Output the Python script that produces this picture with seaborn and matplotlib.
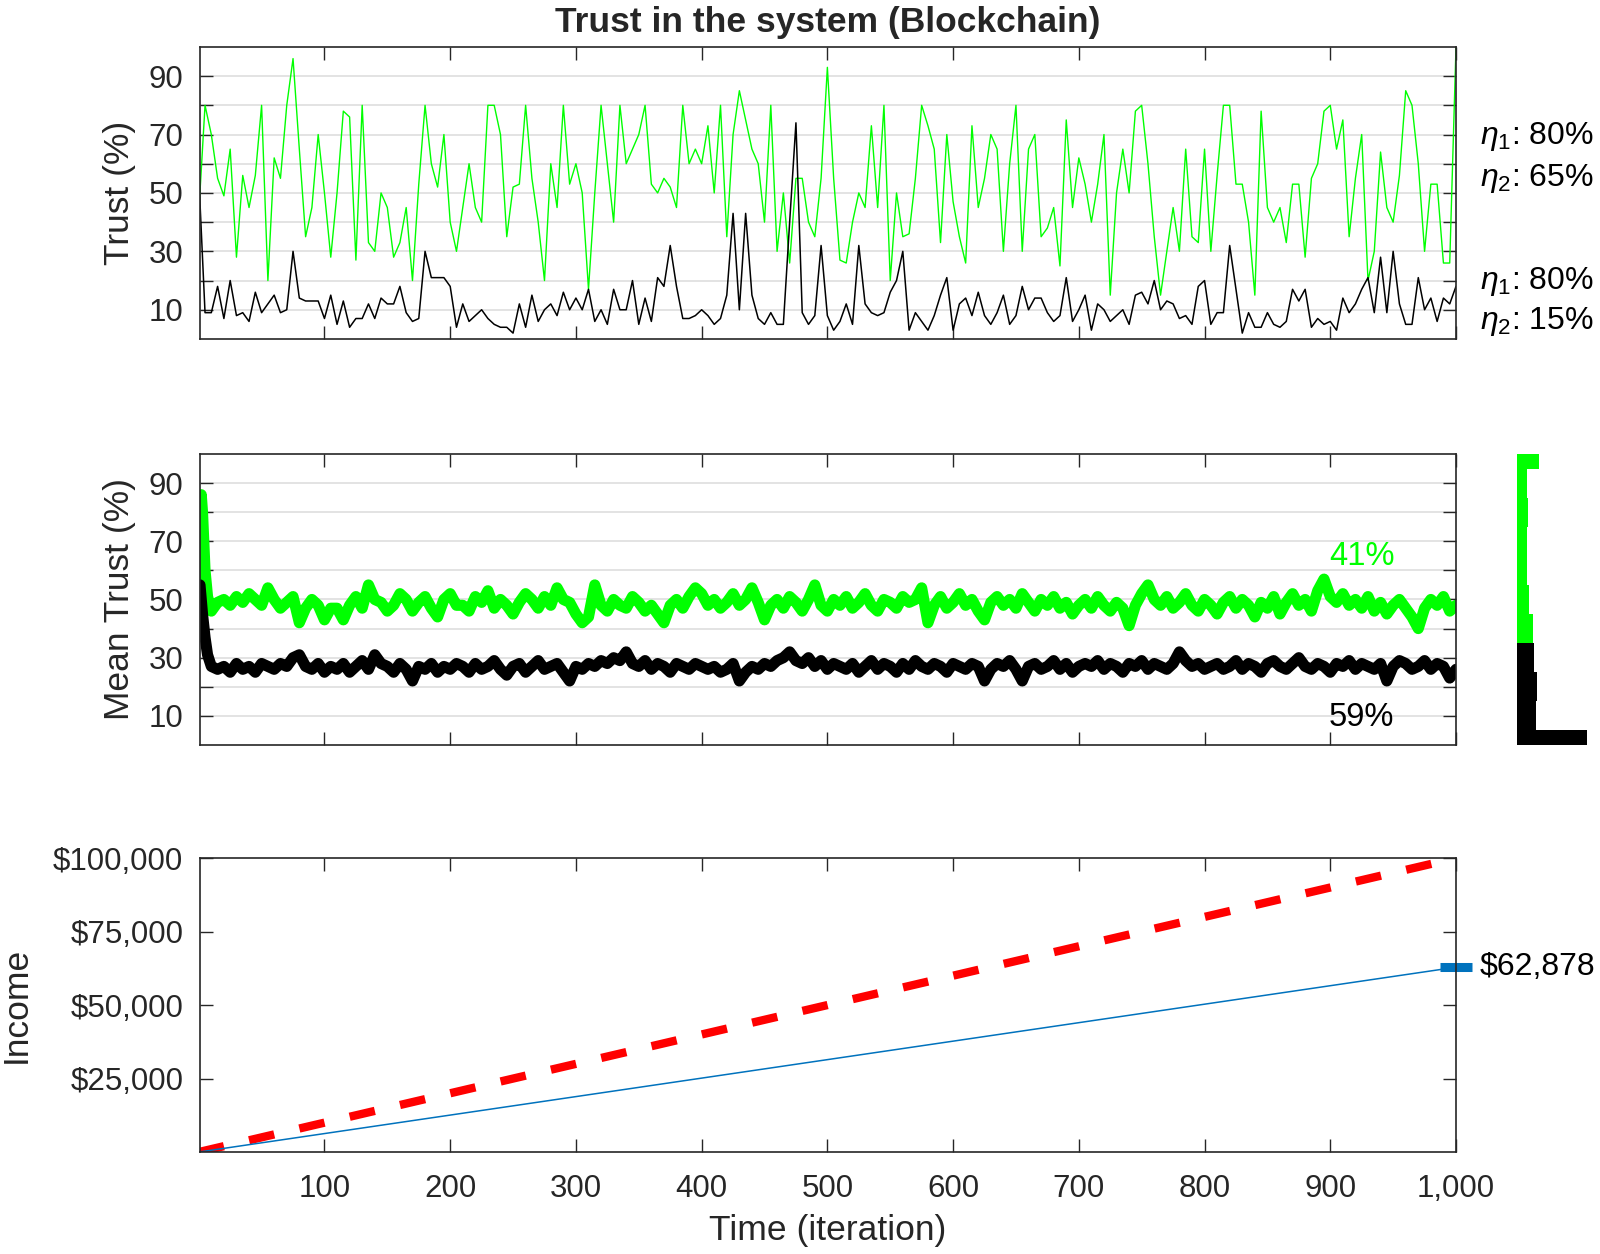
import numpy as np
import matplotlib
matplotlib.use("Agg")
import matplotlib.pyplot as plt
from matplotlib.ticker import FuncFormatter
import seaborn as sns

# ---------------- data ----------------
# top panel: trust of two agents, sampled every 5 iterations
time_top = np.arange(0, 1001, 5)
trust_green = [
    43, 80, 70, 55, 49, 65, 28, 56, 45, 56, 80, 20, 62, 55, 80, 96, 65, 35, 45, 70,
    50, 28, 50, 78, 76, 27, 80, 33, 30, 50, 45, 28, 33, 45, 20, 53, 80, 60, 52, 70,
    40, 30, 45, 60, 45, 40, 80, 80, 70, 35, 52, 53, 80, 55, 40, 20, 60, 45, 80, 53,
    60, 50, 17, 50, 80, 60, 40, 80, 60, 65, 70, 80, 53, 50, 55, 52, 45, 80, 60, 65,
    60, 73, 50, 80, 35, 70, 85, 75, 65, 60, 40, 80, 30, 50, 26, 55, 55, 40, 35, 55,
    93, 55, 27, 26, 40, 50, 45, 73, 45, 80, 20, 50, 35, 36, 55, 80, 73, 65, 33, 70,
    47, 35, 26, 73, 45, 55, 70, 65, 30, 60, 80, 30, 65, 70, 35, 38, 45, 25, 75, 45,
    62, 53, 40, 53, 70, 15, 50, 65, 50, 78, 80, 60, 35, 15, 30, 45, 30, 65, 35, 33,
    65, 30, 56, 80, 80, 53, 53, 40, 15, 78, 45, 40, 45, 33, 53, 53, 28, 55, 60, 78,
    80, 65, 75, 35, 55, 70, 20, 30, 64, 45, 40, 56, 85, 80, 60, 30, 53, 53, 26, 26,
    100,
]
trust_black = [
    56, 9, 9, 18, 7, 20, 8, 9, 6, 16, 9, 12, 15, 9, 10, 30, 14, 13, 13, 13,
    7, 15, 5, 13, 4, 7, 7, 12, 7, 14, 12, 12, 18, 9, 6, 7, 30, 21, 21, 21,
    18, 4, 12, 6, 8, 10, 7, 5, 4, 4, 2, 12, 4, 15, 6, 10, 12, 8, 16, 10,
    14, 10, 17, 6, 10, 5, 17, 10, 10, 20, 5, 14, 6, 21, 18, 32, 18, 7, 7, 8,
    10, 8, 5, 7, 15, 43, 10, 43, 15, 7, 5, 9, 5, 5, 40, 74, 9, 5, 8, 32,
    8, 3, 6, 12, 5, 32, 12, 9, 8, 9, 16, 20, 30, 3, 9, 6, 3, 8, 15, 21,
    3, 12, 14, 8, 16, 8, 5, 9, 15, 5, 8, 18, 10, 14, 14, 9, 6, 8, 21, 6,
    10, 15, 3, 12, 10, 6, 8, 10, 5, 15, 16, 12, 20, 10, 13, 12, 7, 8, 5, 18,
    20, 5, 9, 9, 32, 17, 2, 9, 4, 4, 9, 5, 4, 6, 17, 13, 17, 4, 7, 5,
    6, 3, 14, 9, 12, 17, 21, 9, 28, 9, 30, 12, 5, 5, 21, 10, 14, 6, 14, 12,
    18,
]

# middle panel: mean trust
time_mean = [1, 2, 3, 4, 5, 7] + list(range(10, 1001, 5))
mean_green = [
    57, 86, 80, 70, 60, 51,
    46, 49, 50, 48, 51, 49, 52, 50, 48, 54, 50, 47, 49, 51, 42, 47, 50, 48, 43, 47,
    47, 43, 48, 51, 47, 55, 50, 49, 46, 48, 52, 50, 46, 49, 51, 47, 44, 50, 52, 48,
    48, 46, 51, 49, 53, 47, 50, 48, 45, 49, 52, 50, 47, 51, 48, 54, 50, 49, 45, 42,
    44, 55, 48, 46, 50, 48, 47, 51, 49, 46, 48, 45, 42, 48, 50, 47, 51, 54, 52, 48,
    50, 47, 49, 52, 48, 50, 54, 49, 43, 48, 50, 47, 51, 49, 46, 50, 55, 48, 46, 50,
    48, 51, 47, 49, 52, 48, 46, 50, 49, 47, 51, 49, 50, 54, 42, 48, 51, 47, 49, 52,
    48, 50, 46, 43, 49, 51, 48, 50, 47, 52, 49, 46, 50, 48, 51, 47, 49, 45, 48, 50,
    47, 51, 48, 46, 49, 47, 41, 48, 52, 55, 50, 48, 51, 47, 49, 52, 48, 46, 50, 48,
    45, 49, 51, 47, 50, 48, 44, 49, 47, 51, 45, 49, 52, 48, 50, 46, 53, 57, 51, 49,
    52, 48, 50, 47, 51, 46, 49, 45, 48, 50, 47, 44, 40, 47, 50, 48, 51, 46, 48,
]
mean_black = [
    55, 50, 45, 41, 37, 31,
    27, 26, 27, 25, 28, 26, 27, 25, 28, 27, 26, 28, 27, 30, 31, 27, 26, 28, 25, 27,
    26, 28, 25, 27, 29, 26, 31, 28, 27, 25, 28, 26, 22, 27, 26, 28, 25, 27, 26, 28,
    27, 25, 28, 26, 27, 29, 26, 24, 27, 28, 25, 27, 29, 26, 27, 28, 25, 22, 27, 26,
    28, 27, 29, 28, 30, 29, 32, 28, 27, 29, 26, 28, 27, 25, 28, 27, 26, 28, 27, 26,
    27, 25, 26, 28, 22, 25, 27, 26, 28, 27, 29, 30, 32, 29, 28, 30, 27, 29, 26, 28,
    27, 26, 28, 25, 27, 29, 26, 28, 27, 25, 28, 26, 29, 27, 26, 28, 27, 25, 28, 27,
    26, 28, 27, 22, 26, 28, 27, 29, 26, 22, 27, 28, 26, 27, 29, 26, 28, 25, 27, 28,
    27, 29, 26, 28, 27, 25, 28, 27, 29, 26, 28, 27, 26, 28, 32, 29, 27, 28, 26, 27,
    28, 26, 27, 29, 26, 28, 27, 25, 28, 29, 27, 26, 28, 30, 27, 26, 28, 27, 25, 28,
    27, 29, 26, 28, 27, 26, 28, 22, 27, 29, 28, 26, 27, 29, 26, 28, 27, 23, 26,
]

# side histogram of final trust (bin centres and counts)
hist_centres = [0, 10, 20, 30, 40, 50, 60, 70, 80, 90, 100]
hist_counts = [210, 57, 60, 52, 48, 38, 31, 31, 34, 31, 67]

# bottom panel: income
time_income = [0, 1000]
income_max = [0, 100000]
income_real = [0, 62878]

GREEN = "#00ff00"
BLUE = "#0072bd"
RED = "#ff0000"
DARK = "#262626"
GRID = "#dedede"
TICK_FS = 22.5
LABEL_FS = 25.5

# ---------------- style ----------------
sns.set_theme(style="white")
plt.rcParams["font.family"] = ["Liberation Sans", "DejaVu Sans"]
plt.rcParams["mathtext.fontset"] = "custom"
plt.rcParams["mathtext.rm"] = "Liberation Sans"
plt.rcParams["mathtext.it"] = "Liberation Sans:italic"

fig = plt.figure(figsize=(16, 12.54), dpi=100)
ax_top = fig.add_axes([0.125, 0.7297, 0.785, 0.2329])
ax_mid = fig.add_axes([0.125, 0.4059, 0.785, 0.2321])
ax_bot = fig.add_axes([0.125, 0.0813, 0.785, 0.2344])
ax_hist = fig.add_axes([0.948, 0.4059, 0.04375, 0.2321])


def style_axes(ax):
    for s in ax.spines.values():
        s.set_visible(True)
        s.set_color(DARK)
        s.set_linewidth(1.2)
    ax.tick_params(direction="in", length=9.5, width=1, colors=DARK,
                   top=True, right=True, bottom=True, left=True,
                   labelsize=TICK_FS)
    ax.tick_params(axis="y", pad=12)
    ax.tick_params(axis="x", pad=16)
    ax.set_xlim(1, 1000)
    ax.set_xticks(range(100, 1001, 100))


def trust_ticks(ax):
    ax.set_ylim(0, 100)
    ax.set_yticks(range(10, 100, 10))
    ax.set_yticklabels([str(v) if v % 20 else "" for v in range(10, 100, 10)])
    ax.yaxis.grid(True, color=GRID, linewidth=1.2)
    ax.set_axisbelow(True)
    ax.set_xticklabels([])


# ---------------- top panel ----------------
style_axes(ax_top)
trust_ticks(ax_top)
sns.lineplot(x=time_top, y=trust_green, ax=ax_top, color=GREEN, linewidth=1.0)
sns.lineplot(x=time_top, y=trust_black, ax=ax_top, color="black", linewidth=1.1)
ax_top.set_xlabel("")
ax_top.set_ylabel("Trust (%)", fontsize=LABEL_FS, color=DARK)
ax_top.yaxis.set_label_coords(-0.051, 0.5)

for ytxt, s in [(0.668, r"$\eta_1$: 80%"), (0.524, r"$\eta_2$: 65%"),
                (0.171, r"$\eta_1$: 80%"), (0.034, r"$\eta_2$: 15%")]:
    ax_top.text(1.019, ytxt, s, transform=ax_top.transAxes, fontsize=23,
                va="baseline", ha="left", color="black")

fig.text(0.5175, 1 - 22.5 / 1254, "Trust in the system (Blockchain)",
         ha="center", va="center", fontsize=25.5, fontweight="bold")

# ---------------- middle panel ----------------
style_axes(ax_mid)
trust_ticks(ax_mid)
sns.lineplot(x=time_mean, y=mean_green, ax=ax_mid, color=GREEN, linewidth=8,
             solid_capstyle="round", solid_joinstyle="round")
sns.lineplot(x=time_mean, y=mean_black, ax=ax_mid, color="black", linewidth=8,
             solid_capstyle="round", solid_joinstyle="round")
ax_mid.set_xlabel("")
ax_mid.set_ylabel("Mean Trust (%)", fontsize=LABEL_FS, color=DARK)
ax_mid.yaxis.set_label_coords(-0.051, 0.5)
ax_mid.text(925, 64.6, "41%", color=GREEN, fontsize=23.5, ha="center", va="center")
ax_mid.text(925, 9.6, "59%", color="black", fontsize=23.5, ha="center", va="center")

# side histogram
hist_colors = ["black" if c < 35 else GREEN for c in hist_centres]
ax_hist.barh(hist_centres, hist_counts, height=10, color=hist_colors, linewidth=0)
ax_hist.set_ylim(0, 100)
ax_hist.set_xlim(0, 210)
ax_hist.axis("off")

# ---------------- bottom panel ----------------
style_axes(ax_bot)
sns.lineplot(x=time_income, y=income_max, ax=ax_bot, color=RED, linewidth=6)
ax_bot.lines[-1].set_linestyle((0, (3.1, 3.1)))
ax_bot.lines[-1].set_dash_capstyle("butt")
sns.lineplot(x=time_income, y=income_real, ax=ax_bot, color=BLUE, linewidth=1.1)
ax_bot.plot([1000], [income_real[-1]], marker="_", markersize=23,
            markeredgewidth=6.5, color=BLUE, clip_on=False)
ax_bot.text(1.019, income_real[-1], r"\$62,878", transform=ax_bot.get_yaxis_transform(),
            fontsize=23, ha="left", va="center", color="black")
ax_bot.set_ylim(0, 100000)
ax_bot.set_yticks([25000, 50000, 75000, 100000])
ax_bot.yaxis.set_major_formatter(FuncFormatter(lambda v, p: r"\$" + f"{v:,.0f}"))
ax_bot.xaxis.set_major_formatter(FuncFormatter(lambda v, p: f"{v:,.0f}"))
ax_bot.set_ylabel("Income", fontsize=LABEL_FS, color=DARK)
ax_bot.yaxis.set_label_coords(-0.133, 0.5)
ax_bot.set_xlabel("Time (iteration)", fontsize=LABEL_FS, color=DARK)
ax_bot.xaxis.set_label_coords(0.5, -0.212)

fig.savefig("out.png", dpi=100)
